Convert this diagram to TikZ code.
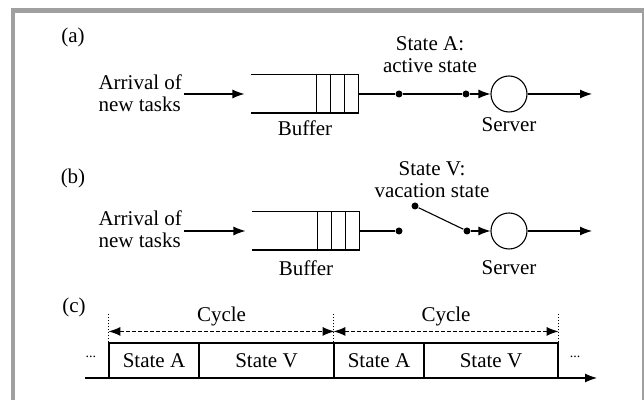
\documentclass[tikz,border=0pt]{standalone}
\usepackage{fontspec}
\setmainfont{Liberation Serif}
\usetikzlibrary{arrows.meta,positioning}
\definecolor{framegray}{RGB}{160,160,160}
\begin{document}
\begin{tikzpicture}[x=0.5pt,y=-0.5pt,
   font=\fontsize{10.5}{11}\selectfont, line width=0.55pt,
   arr/.style={-{Latex[length=6pt,width=4.5pt]}},
   cyc/.style={{Latex[length=6pt,width=4.5pt]}-{Latex[length=6pt,width=4.5pt]},
               dash pattern=on 2pt off 1pt},
   dot/.style={circle,fill,inner sep=0pt,minimum size=3.5pt},
   srv/.style={circle,draw,inner sep=0pt,minimum size=18pt},
   buf/.style={inner sep=0pt,minimum width=53pt,minimum height=18.5pt},
   cell/.style={draw,inner sep=0pt,minimum height=17.5pt},
   lbl/.style={inner sep=1pt,align=center}]
   \useasboundingbox (0,0) rectangle (644,400);
   % frame
   \fill[framegray] (11,8) rectangle (644,13);
   \fill[framegray] (11,8) rectangle (15,400);
   \fill[framegray] (642,8) rectangle (643.5,400);

   % (a) active state
   \node[lbl] (tagA) at (73,37) {(a)};
   \node[lbl,align=left,anchor=west] (inA) at (96,93) {Arrival of\\new tasks};
   \node[buf] (bufA) at (305,94) {};
   \draw (bufA.north west) -- (bufA.north east) -- (bufA.south east) -- (bufA.south west);
   \foreach \d in {7,14,21}
      \draw ([xshift=-\d pt]bufA.north east) -- ([xshift=-\d pt]bufA.south east);
   \draw[arr,shorten >=3.5pt] (inA.east |- bufA.west) -- (bufA.west);
   \node[dot] (a1) at (399,94) {};
   \node[dot] (a2) at (466,94) {};
   \node[srv] (srvA) at (509,94) {};
   \coordinate (outA) at (592,94);
   \draw (bufA.east) -- (a1) -- (a2);
   \draw[arr] (a2) -- (srvA);
   \draw[arr] (srvA) -- (outA);
   \node[lbl] (stA) at (430,55) {State A:\\active state};
   \node[lbl] (bufLA) at (305,128) {Buffer};
   \node[lbl] (srvLA) at (509,125) {Server};

   % (b) vacation state
   \node[lbl] (tagB) at (73,178) {(b)};
   \node[lbl,align=left,anchor=west] (inB) at (96,229) {Arrival of\\new tasks};
   \node[buf] (bufB) at (306,231) {};
   \draw (bufB.north west) -- (bufB.north east) -- (bufB.south east) -- (bufB.south west);
   \foreach \d in {7,14,21}
      \draw ([xshift=-\d pt]bufB.north east) -- ([xshift=-\d pt]bufB.south east);
   \draw[arr,shorten >=3.5pt] (inB.east |- bufB.west) -- (bufB.west);
   \node[dot] (b1) at (399,231) {};
   \node[dot] (b2) at (415,206) {};
   \node[dot] (b3) at (467,231) {};
   \node[srv] (srvB) at (509,231) {};
   \coordinate (outB) at (592,231);
   \draw (bufB.east) -- (b1);
   \draw (b2) -- (b3);
   \draw[arr] (b3) -- (srvB);
   \draw[arr] (srvB) -- (outB);
   \node[lbl] (stB) at (432,180) {State V:\\vacation state};
   \node[lbl] (bufLB) at (306,268) {Buffer};
   \node[lbl] (srvLB) at (509,268) {Server};

   % (c) cycles
   \node[lbl] (tagC) at (74,307) {(c)};
   \node[cell,minimum width=45pt] (sA1) at (154,360.5) {State A};
   \node[cell,minimum width=67.5pt] (sV1) at (266.5,360.5) {State V};
   \node[cell,minimum width=45pt] (sA2) at (379,360.5) {State A};
   \node[cell,minimum width=67pt] (sV2) at (491,360.5) {State V};
   \coordinate (t0) at (85,378);
   \coordinate (t1) at (597,378);
   \draw[arr] (t0) -- (t1);
   \foreach \c in {sA1.north west,sA2.north west,sV2.north east}
      \draw[dash pattern=on 0.5pt off 1pt] (\c) -- ++(0,-28);
   \draw[cyc] ([yshift=5.5pt]sA1.north west) -- ([yshift=5.5pt]sV1.north east)
      node[lbl,midway,above=1.5pt] (cyc1) {Cycle};
   \draw[cyc] ([yshift=5.5pt]sA2.north west) -- ([yshift=5.5pt]sV2.north east)
      node[lbl,midway,above=1.5pt] (cyc2) {Cycle};
   \node[inner sep=0pt,anchor=base] (dotsL) at (91,358) {\fontsize{7}{7}\selectfont...};
   \node[inner sep=0pt,anchor=base] (dotsR) at (575,358) {\fontsize{7}{7}\selectfont...};
\end{tikzpicture}
\end{document}
